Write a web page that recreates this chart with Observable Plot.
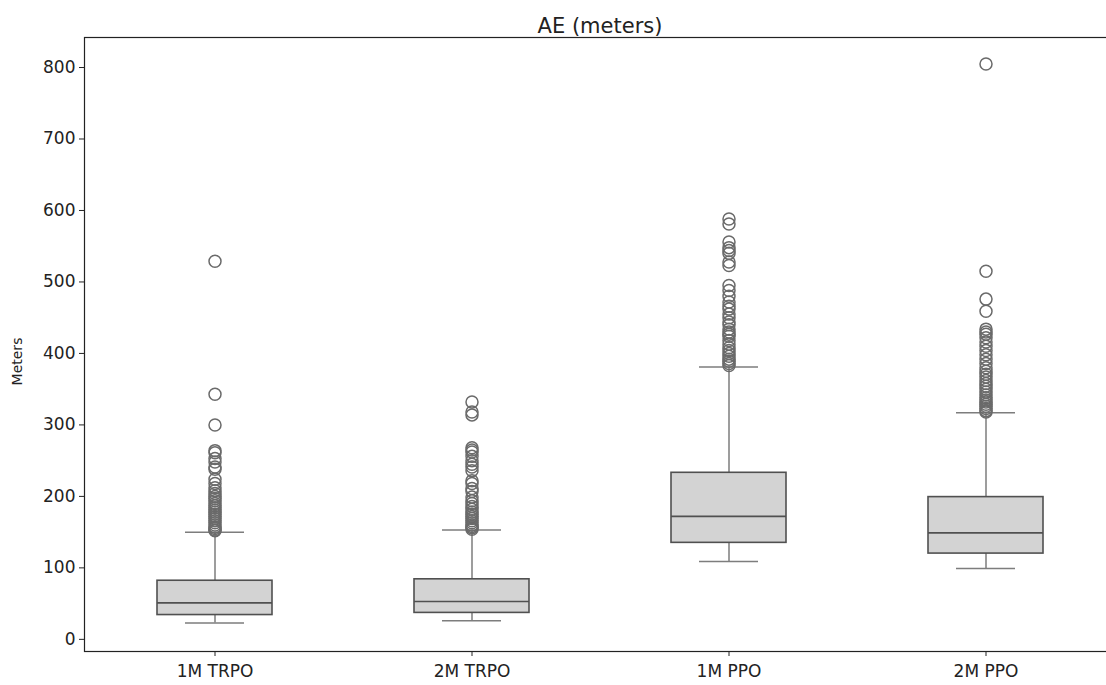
<!DOCTYPE html>
<html>
<head>
<meta charset="utf-8">
<script src="https://cdn.jsdelivr.net/npm/d3@7"></script>
<script src="https://cdn.jsdelivr.net/npm/@observablehq/plot@0.6"></script>
<style>
  html, body { margin: 0; padding: 0; background: #fff; overflow: hidden; }
  #chart svg { display: block; max-width: none !important; }
</style>
</head>
<body>
<div id="chart"></div>
<script>
const categories = ["1M TRPO", "2M TRPO", "1M PPO", "2M PPO"];
const whiskerLow = [23, 26, 109, 99];
const q1 = [34, 37, 135, 120];
const median = [51, 53, 172, 149];
const q3 = [82, 84, 233, 199];
const whiskerHigh = [150, 153, 381, 317];
const outliers = [
  [529, 343, 300, 264, 261, 253, 248, 241, 238, 224, 218, 212, 208, 204, 200, 197, 194, 190, 187, 184, 181, 178, 175, 172, 169, 166, 163, 160, 157, 155, 153, 152],
  [332, 318, 314, 268, 265, 262, 256, 250, 245, 241, 236, 222, 218, 211, 207, 199, 194, 190, 186, 182, 178, 175, 172, 169, 166, 163, 160, 158, 156, 154],
  [588, 581, 556, 548, 544, 540, 528, 523, 495, 488, 480, 472, 466, 462, 455, 450, 444, 440, 434, 430, 427, 424, 418, 413, 408, 404, 400, 396, 392, 389, 386, 383],
  [805, 515, 476, 459, 434, 430, 427, 422, 416, 410, 404, 398, 392, 386, 380, 375, 371, 367, 362, 358, 354, 350, 346, 342, 338, 335, 332, 329, 326, 323, 320, 318]
];
const yTicks = [0, 100, 200, 300, 400, 500, 600, 700, 800];
const title = "AE (meters)";
const yLabel = "Meters";

const boxes = categories.map((c, i) => ({
  cat: c, lo: whiskerLow[i], q1: q1[i], med: median[i], q3: q3[i], hi: whiskerHigh[i]
}));
const fliers = categories.flatMap((c, i) => outliers[i].map(v => ({cat: c, v})));

const font = "DejaVu Sans, sans-serif";
const whiskerColor = "#7d7d7d";
const edgeColor = "#505050";

const chart = Plot.plot({
  width: 1120,
  height: 685,
  marginLeft: 84,
  marginRight: 5,
  marginTop: 37,
  marginBottom: 34,
  style: {fontFamily: font, background: "#fff", maxWidth: "none"},
  x: {type: "band", domain: categories, padding: 0, label: null},
  y: {domain: [-17, 842], label: null},
  marks: [
    Plot.ruleX(boxes, {x: "cat", y1: "lo", y2: "q1", stroke: whiskerColor, strokeWidth: 1.5}),
    Plot.ruleX(boxes, {x: "cat", y1: "q3", y2: "hi", stroke: whiskerColor, strokeWidth: 1.5}),
    Plot.tickY(boxes, {x: "cat", y: "lo", insetLeft: 99, insetRight: 99, stroke: whiskerColor, strokeWidth: 1.5}),
    Plot.tickY(boxes, {x: "cat", y: "hi", insetLeft: 99, insetRight: 99, stroke: whiskerColor, strokeWidth: 1.5}),
    Plot.barY(boxes, {x: "cat", y1: "q1", y2: "q3", fill: "#d3d3d3", stroke: edgeColor, strokeWidth: 1.6, insetLeft: 71, insetRight: 71}),
    Plot.tickY(boxes, {x: "cat", y: "med", insetLeft: 71, insetRight: 71, stroke: edgeColor, strokeWidth: 1.6}),
    Plot.dot(fliers, {x: "cat", y: "v", r: 6, stroke: "#6a6a6a", strokeWidth: 1.5, fill: "none"}),
    Plot.frame({stroke: "#222", strokeWidth: 1.2}),
    Plot.axisY({ticks: yTicks, tickSize: 5, tickPadding: 4, fontSize: 17, stroke: "#222", color: "#222", label: null}),
    Plot.axisX({tickSize: 5, tickPadding: 8, fontSize: 17, stroke: "#222", color: "#222", label: null}),
    Plot.text([title], {frameAnchor: "top", dy: -19, fontSize: 21, fill: "#222"}),
    Plot.text([yLabel], {frameAnchor: "left", textAnchor: "middle", dx: -67, dy: 17, rotate: -90, fontSize: 14, fill: "#222"})
  ]
});
document.getElementById("chart").append(chart);
</script>
</body>
</html>
